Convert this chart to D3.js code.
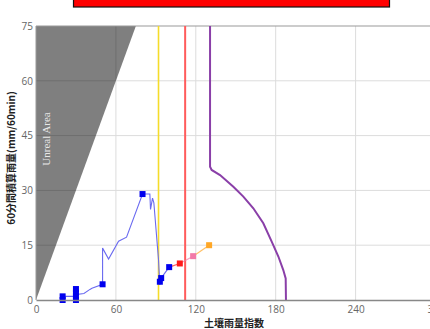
<!DOCTYPE html>
<html>
<head>
<meta charset="utf-8">
<script src="https://cdn.jsdelivr.net/npm/d3@7"></script>
<style>
  html, body { margin: 0; padding: 0; background: #fff; }
  svg { display: block; }
</style>
</head>
<body>
<svg id="chart" width="430" height="329"></svg>
<script>
// Axis ticks
const xTicks = [0, 60, 120, 180, 240, 300];
const yTicks = [0, 15, 30, 45, 60, 75];

// Snake line (soil rainfall index vs 60-minute accumulated rainfall)
const snakeX = [20, 20, 30, 30, 30, 30, 36, 40.5, 42, 50, 50, 54.5, 62, 68, 80, 85.5, 86, 87.5, 88.5, 92, 93, 93, 94, 100];
const snakeY = [0, 1, 1, 0, 3, 1.5, 1.8, 2.9, 3.2, 4.3, 14.2, 11.2, 16.1, 17.2, 29, 29, 24.8, 27.9, 26.6, 11, 4.1, 5, 6, 9];

// Hourly markers on the snake line
const markX = [20, 20, 30, 30, 30, 30, 50, 80, 93, 94, 100];
const markY = [0, 1, 0, 1, 2, 3, 4.3, 29, 5, 6, 9];

// Forecast points
const fcX = [100, 108, 118, 130];
const fcY = [9, 10, 12, 15];
const fcColors = ["#0000ee", "#ff1a1a", "#f27aa8", "#ffa726"];

// Warning reference lines (soil rainfall index)
const refX = [92, 112];
const refColors = ["#f5dc2a", "#ff5c5c"];

// Critical line
const clX = [130.7, 130.7, 131.9, 138.2, 148.2, 155.7, 163.2, 170.7, 177, 182, 185.7, 187.5, 187.7];
const clY = [75, 36.5, 35.6, 34.2, 31.0, 28.3, 25.1, 21.0, 16, 11.9, 8.2, 5.9, 0];

const svg = d3.select("#chart");
const x = d3.scaleLinear().domain([0, 300]).range([36, 435.5]);
const y = d3.scaleLinear().domain([0, 75]).range([300, 26]);

// Title banner
svg.append("rect")
  .attr("x", 73.5).attr("y", -20).attr("width", 316).attr("height", 27)
  .attr("fill", "#ff0000").attr("stroke", "#111").attr("stroke-width", 1.2);

// Grid
const grid = svg.append("g");
grid.selectAll("line.gx").data(xTicks.filter(d => d > 0)).join("line")
  .attr("x1", d => x(d)).attr("x2", d => x(d))
  .attr("y1", y(75)).attr("y2", y(0))
  .attr("stroke", "#dcdcdc").attr("stroke-width", 1);
grid.selectAll("line.gy").data(yTicks.filter(d => d > 0 && d < 75)).join("line")
  .attr("x1", x(0)).attr("x2", x(300))
  .attr("y1", d => y(d)).attr("y2", d => y(d))
  .attr("stroke", "#dcdcdc").attr("stroke-width", 1);

// Unreal area
svg.append("path")
  .attr("d", d3.line().x(d => x(d[0])).y(d => y(d[1]))([[0, 0], [0, 75], [75, 75]]) + "Z")
  .attr("fill", "#000").attr("fill-opacity", 0.5);
svg.append("text")
  .attr("transform", `translate(50,${139}) rotate(-90)`)
  .attr("text-anchor", "middle")
  .attr("font-family", "'Liberation Serif', 'DejaVu Serif', serif")
  .attr("font-size", 11)
  .attr("fill", "#e8e8e8")
  .text("Unreal Area");

// Frame lines
svg.append("line").attr("x1", x(0)).attr("x2", 430).attr("y1", y(75)).attr("y2", y(75))
  .attr("stroke", "#999").attr("stroke-width", 1.2);
svg.append("line").attr("x1", x(0)).attr("x2", x(0)).attr("y1", y(75)).attr("y2", y(0))
  .attr("stroke", "#999").attr("stroke-width", 1);

// Reference lines
svg.selectAll("line.ref").data(refX).join("line")
  .attr("x1", d => x(d)).attr("x2", d => x(d))
  .attr("y1", y(75)).attr("y2", y(0))
  .attr("stroke", (d, i) => refColors[i]).attr("stroke-width", (d, i) => i === 0 ? 1.6 : 2);

// Critical line
svg.append("path")
  .datum(clX.map((v, i) => [v, clY[i]]))
  .attr("d", d3.line().x(d => x(d[0])).y(d => y(d[1])))
  .attr("fill", "none").attr("stroke", "#8a3fa8").attr("stroke-width", 2);

// Snake line
svg.append("path")
  .datum(snakeX.map((v, i) => [v, snakeY[i]]))
  .attr("d", d3.line().x(d => x(d[0])).y(d => y(d[1])))
  .attr("fill", "none").attr("stroke", "#6a6af0").attr("stroke-width", 1.1);

// Forecast segments, each coloured by its end point
const fcPts = fcX.map((v, i) => [v, fcY[i]]);
svg.selectAll("line.fc").data(fcPts.slice(1)).join("line")
  .attr("x1", (d, i) => x(fcPts[i][0])).attr("y1", (d, i) => y(fcPts[i][1]))
  .attr("x2", d => x(d[0])).attr("y2", d => y(d[1]))
  .attr("stroke", (d, i) => fcColors[i + 1]).attr("stroke-opacity", 0.7).attr("stroke-width", 1.2);

// Markers
const sz = 6;
svg.selectAll("rect.mk").data(markX.map((v, i) => [v, markY[i]])).join("rect")
  .attr("x", d => x(d[0]) - sz / 2).attr("y", d => y(d[1]) - sz / 2)
  .attr("width", sz).attr("height", sz).attr("fill", "#0000ee");
svg.selectAll("rect.fm").data(fcPts.slice(1)).join("rect")
  .attr("x", d => x(d[0]) - sz / 2).attr("y", d => y(d[1]) - sz / 2)
  .attr("width", sz).attr("height", sz).attr("fill", (d, i) => fcColors[i + 1]);

// Axes
const xAxis = svg.append("g").attr("transform", `translate(0,${y(0)})`)
  .call(d3.axisBottom(x).tickValues(xTicks).tickSize(0).tickPadding(6));
xAxis.select(".domain").attr("stroke", "#888").attr("stroke-width", 1.6);
xAxis.selectAll("text").attr("fill", "#666").attr("font-size", 10)
  .attr("font-family", "'Open Sans', 'Noto Sans', sans-serif");

const yAxis = svg.append("g").attr("transform", `translate(${x(0)},0)`)
  .call(d3.axisLeft(y).tickValues(yTicks).tickSize(0).tickPadding(3));
yAxis.select(".domain").remove();
yAxis.selectAll("text").attr("fill", "#666").attr("font-size", 10)
  .attr("font-family", "'Open Sans', 'Noto Sans', sans-serif");

// Axis titles
svg.append("text")
  .attr("x", 234).attr("y", 327)
  .attr("text-anchor", "middle")
  .attr("font-family", "'Noto Sans CJK JP', sans-serif")
  .attr("font-weight", "bold").attr("font-size", 10).attr("fill", "#222")
  .text("土壤雨量指数");
svg.append("text")
  .attr("transform", `translate(15,${158}) rotate(-90)`)
  .attr("text-anchor", "middle")
  .attr("font-family", "'Noto Sans CJK JP', sans-serif")
  .attr("font-weight", "bold").attr("font-size", 10).attr("fill", "#222")
  .text("60分間積算雨量(mm/60min)");
</script>
</body>
</html>
